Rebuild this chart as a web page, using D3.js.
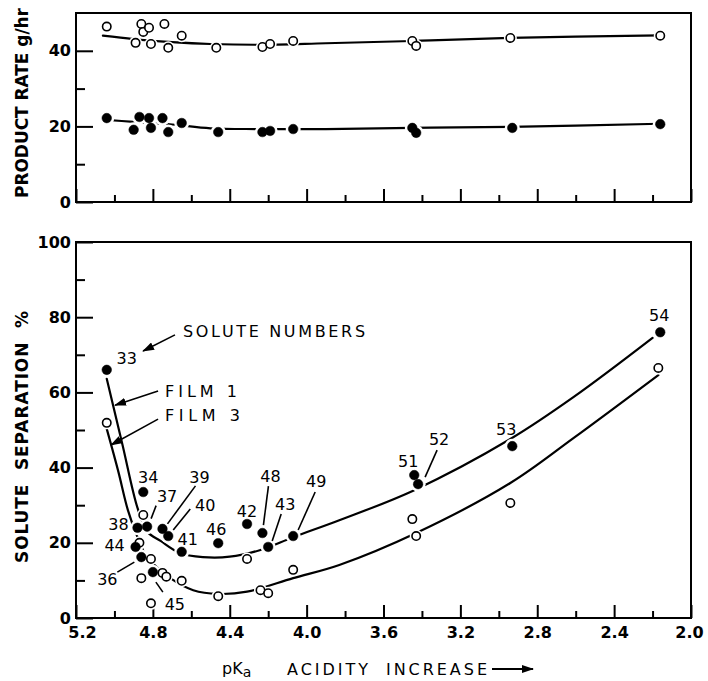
<!DOCTYPE html>
<html><head><meta charset="utf-8">
<script src="https://cdn.jsdelivr.net/npm/d3@7"></script>
<style>body{margin:0;background:#fff}svg{display:block}</style>
</head><body>
<svg id="c" width="708" height="681"></svg>
<script>
// ---------- axis ticks ----------
const xMajor = [5.2, 4.8, 4.4, 4.0, 3.6, 3.2, 2.8, 2.4, 2.0];
const xMinor = [5.0, 4.6, 4.2, 3.8, 3.4, 3.0, 2.6, 2.2];
const rateTicks = [0, 20, 40];
const rateMinor = [10, 30];
const sepTicks = [0, 20, 40, 60, 80, 100];
const sepMinor = [10, 30, 50, 70, 90];

// ---------- top panel: product rate (g/hr) ----------
const rateOpenPK  = [5.04, 4.89, 4.86, 4.85, 4.82, 4.81, 4.74, 4.72, 4.65, 4.47, 4.23, 4.19, 4.07, 3.45, 3.43, 2.94, 2.16];
const rateOpenVal = [46.4, 42.1, 47.1, 45.0, 46.1, 41.8, 47.1, 40.8, 44.0, 40.8, 41.0, 41.8, 42.6, 42.6, 41.3, 43.4, 44.0];
const rateFilledPK  = [5.04, 4.90, 4.87, 4.82, 4.81, 4.75, 4.72, 4.65, 4.46, 4.23, 4.19, 4.07, 3.45, 3.43, 2.93, 2.16];
const rateFilledVal = [22.2, 19.1, 22.5, 22.2, 19.6, 22.2, 18.5, 20.9, 18.5, 18.5, 18.8, 19.3, 19.6, 18.3, 19.6, 20.6];
const rateOpenFitPK  = [5.06, 4.9, 4.7, 4.5, 4.25, 3.9, 3.45, 2.94, 2.16];
const rateOpenFitVal = [44.0, 43.1, 42.3, 41.8, 41.6, 42.0, 42.6, 43.4, 44.1];
const rateFilledFitPK  = [5.06, 4.9, 4.7, 4.5, 4.25, 3.9, 3.45, 2.94, 2.16];
const rateFilledFitVal = [21.8, 21.2, 20.5, 19.5, 19.3, 19.3, 19.6, 19.9, 20.7];

// ---------- bottom panel: solute separation (%) ----------
const soluteNumbers = ['33','34','38','37','39','40','41','44','36','45','46','42','48','43','49','51','52','53','54'];
const film1PK  = [5.04, 4.85, 4.88, 4.83, 4.75, 4.72, 4.65, 4.89, 4.86, 4.80, 4.46, 4.31, 4.23, 4.20, 4.07, 3.44, 3.42, 2.93, 2.16];
const film1Val = [66.0, 33.5, 24.0, 24.3, 23.7, 21.8, 17.6, 18.9, 16.2, 12.2, 19.9, 25.0, 22.6, 18.9, 21.8, 38.0, 35.6, 45.7, 76.0];
const film3PK  = [5.04, 4.85, 4.87, 4.81, 4.86, 4.75, 4.73, 4.65, 4.81, 4.46, 4.31, 4.24, 4.20, 4.07, 3.45, 3.43, 2.94, 2.17];
const film3Val = [51.9, 27.4, 20.0, 15.7, 10.6, 12.0, 11.0, 9.9, 3.9, 5.8, 15.7, 7.4, 6.6, 12.8, 26.3, 21.8, 30.6, 66.5];
const film1FitPK  = [5.04, 4.96, 4.88, 4.83, 4.76, 4.66, 4.54, 4.40, 4.24, 4.07, 3.83, 3.44, 2.94, 2.61, 2.20];
const film1FitVal = [63.6, 46.5, 29.3, 23.0, 20.5, 17.3, 16.2, 16.3, 18.1, 21.5, 26.0, 34.0, 47.6, 58.8, 74.5];
const film3FitPK  = [5.04, 4.98, 4.93, 4.88, 4.84, 4.79, 4.71, 4.59, 4.46, 4.31, 4.07, 3.83, 3.43, 2.94, 2.61, 2.17];
const film3FitVal = [50.3, 39.0, 28.7, 21.5, 17.0, 14.0, 10.6, 7.4, 6.4, 7.0, 10.6, 14.1, 22.6, 35.9, 47.9, 64.6];

// ---------- layout (pixel offsets of solute labels relative to their points) ----------
const labelOffsets = [[20,-6],[5,-9],[-19,2],[20,-25],[37,-46],[37,-25],[6,-7],[-21,4],[-34,28],[22,38],[-2,-8],[0,-7],[8,-51],[17,-37],[23,-49],[-6,-8],[21,-39],[-6,-11],[-1,-11]];
const leaderOffsets = {'37':[9,-21,4,-8],'39':[33,-43,5,-5],'40':[22,-27,5,-6],'36':[-24,15,-7,5],'45':[10,20,3,10],'48':[6,-47,1,-8],'43':[13,-33,4,-6],'49':[22,-44,5,-6],'52':[19,-34,7,-7]};

const FONT = "'DejaVu Sans', sans-serif";
const svg = d3.select('#c');
svg.append('rect').attr('width',708).attr('height',681).attr('fill','#fff');

const x = d3.scaleLinear().domain([5.2, 2.0]).range([76, 691]);
const yTop = d3.scaleLinear().domain([0, 50]).range([202, 13]);
const yBot = d3.scaleLinear().domain([0, 100]).range([618, 242]);

const defs = svg.append('defs');
defs.append('marker').attr('id','ah').attr('markerUnits','userSpaceOnUse')
  .attr('markerWidth',12).attr('markerHeight',8).attr('refX',11).attr('refY',4).attr('orient','auto')
  .append('path').attr('d','M0,0 L12,4 L0,8 Z').attr('fill','#000');

function styleAxis(g, bold) {
  g.select('.domain').remove();
  g.selectAll('line').attr('stroke','#000').attr('stroke-width',2);
  g.selectAll('text').attr('font-family',FONT).attr('font-size',16)
   .attr('font-weight', bold ? 'bold' : 'normal').attr('fill','#000');
}

function panel(y, yMajor, yMinor, xLabels) {
  const [y0, y1] = y.range();
  svg.append('g').attr('transform',`translate(0,${y0})`)
    .call(d3.axisBottom(x).tickValues(xMajor).tickSize(-13).tickPadding(9)
      .tickFormat(xLabels ? d3.format('.1f') : ''))
    .call(g => styleAxis(g, true))
    .call(g => {
      g.selectAll('.tick text').filter(d => d === 5.2).attr('dx', 6);
      g.selectAll('.tick text').filter(d => d === 2.0).attr('dx', -2);
    });
  svg.append('g').attr('transform',`translate(0,${y0})`)
    .call(d3.axisBottom(x).tickValues(xMinor).tickSize(-7).tickFormat(''))
    .call(g => styleAxis(g, true));
  svg.append('g').attr('transform',`translate(${x.range()[0]},0)`)
    .call(d3.axisLeft(y).tickValues(yMajor).tickSize(-17).tickPadding(5))
    .call(g => styleAxis(g, true));
  svg.append('g').attr('transform',`translate(${x.range()[0]},0)`)
    .call(d3.axisLeft(y).tickValues(yMinor).tickSize(-9).tickFormat(''))
    .call(g => styleAxis(g, true));
  svg.append('rect').attr('x',x.range()[0]).attr('y',y1)
    .attr('width',x.range()[1]-x.range()[0]).attr('height',y0-y1)
    .attr('fill','none').attr('stroke','#000').attr('stroke-width',2);
}

panel(yTop, rateTicks, rateMinor, false);
panel(yBot, sepTicks, sepMinor, true);

function curve(y, pks, vals) {
  const line = d3.line().x(d => x(d[0])).y(d => y(d[1])).curve(d3.curveCatmullRom.alpha(0.5));
  svg.append('path').attr('d', line(d3.zip(pks, vals)))
    .attr('fill','none').attr('stroke','#000').attr('stroke-width',2.2).attr('stroke-linecap','round');
}
function halos(y, pks, vals, r) {
  svg.append('g').selectAll('circle').data(d3.zip(pks, vals)).join('circle')
    .attr('cx', d => x(d[0])).attr('cy', d => y(d[1])).attr('r', r).attr('fill','#fff');
}
function points(y, pks, vals, filled) {
  svg.append('g').selectAll('circle').data(d3.zip(pks, vals)).join('circle')
    .attr('cx', d => x(d[0])).attr('cy', d => y(d[1]))
    .attr('r', filled ? 4.8 : 4.2)
    .attr('fill', filled ? '#000' : '#fff')
    .attr('stroke','#000').attr('stroke-width', filled ? 0.5 : 1.6);
}

curve(yTop, rateOpenFitPK, rateOpenFitVal);
curve(yTop, rateFilledFitPK, rateFilledFitVal);
halos(yTop, rateOpenPK, rateOpenVal, 6.5);
halos(yTop, rateFilledPK, rateFilledVal, 7.5);
points(yTop, rateOpenPK, rateOpenVal, false);
points(yTop, rateFilledPK, rateFilledVal, true);

curve(yBot, film1FitPK, film1FitVal);
curve(yBot, film3FitPK, film3FitVal);
halos(yBot, film1PK, film1Val, 7.5);
halos(yBot, film3PK, film3Val, 6.5);
points(yBot, film3PK, film3Val, false);
points(yBot, film1PK, film1Val, true);

const lab = svg.append('g').attr('font-family',FONT).attr('font-size',16).attr('text-anchor','middle');
soluteNumbers.forEach((n, i) => {
  const px = x(film1PK[i]), py = yBot(film1Val[i]);
  const [dx, dy] = labelOffsets[i];
  lab.append('text').attr('x', px + dx).attr('y', py + dy).text(n);
  if (leaderOffsets[n]) {
    const [a, b, c, d] = leaderOffsets[n];
    svg.append('line').attr('x1', px + a).attr('y1', py + b).attr('x2', px + c).attr('y2', py + d)
      .attr('stroke','#000').attr('stroke-width',1.6);
  }
});

function note(txt, pk, v, len) {
  svg.append('text').attr('x', x(pk)).attr('y', yBot(v)).attr('font-family',FONT).attr('font-size',16)
    .attr('textLength', len).attr('lengthAdjust','spacing').text(txt);
}
function arrow(pk1, v1, pk2, v2) {
  svg.append('line').attr('x1', x(pk1)).attr('y1', yBot(v1)).attr('x2', x(pk2)).attr('y2', yBot(v2))
    .attr('stroke','#000').attr('stroke-width',1.6).attr('marker-end','url(#ah)');
}
note('SOLUTE NUMBERS', 4.643, 74.7, 182);
arrow(4.685, 75.3, 4.851, 71.0);
note('FILM 1', 4.737, 58.8, 72);
arrow(4.773, 60.4, 4.997, 56.6);
note('FILM 3', 4.737, 52.4, 75);
arrow(4.773, 52.9, 5.018, 46.0);

svg.append('text').attr('transform','translate(28,103) rotate(-90)').attr('text-anchor','middle')
  .attr('font-family',FONT).attr('font-size',17).attr('font-weight','bold')
  .attr('textLength',190).attr('lengthAdjust','spacing').text('PRODUCT RATE g/hr');
svg.append('text').attr('transform','translate(28,437) rotate(-90)').attr('text-anchor','middle')
  .attr('font-family',FONT).attr('font-size',17).attr('font-weight','bold').style('white-space','pre')
  .attr('textLength',252).attr('lengthAdjust','spacing').text('SOLUTE  SEPARATION  %');

const xt = svg.append('g').attr('font-family',FONT).attr('font-size',16);
const pk = xt.append('text').attr('x',222).attr('y',674);
pk.append('tspan').text('pK');
pk.append('tspan').attr('dy',3).attr('font-size',14).text('a');
xt.append('text').attr('x',287).attr('y',675).attr('textLength',81).attr('lengthAdjust','spacing').text('ACIDITY');
xt.append('text').attr('x',386).attr('y',675).attr('textLength',101).attr('lengthAdjust','spacing').text('INCREASE');
svg.append('line').attr('x1',492).attr('y1',669).attr('x2',533).attr('y2',669)
  .attr('stroke','#000').attr('stroke-width',2.2).attr('marker-end','url(#ah)');
</script>
</body></html>
